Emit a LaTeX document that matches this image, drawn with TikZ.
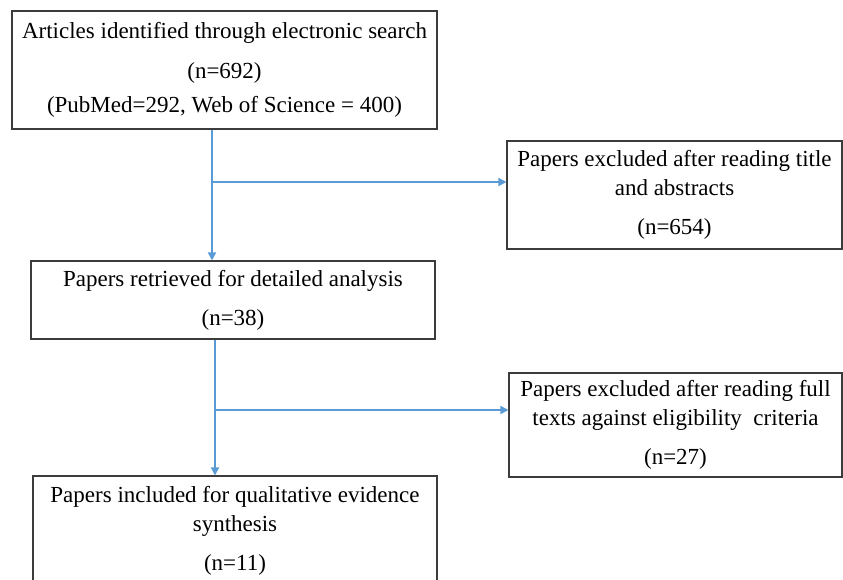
\documentclass[tikz,border=0pt]{standalone}
\usepackage{fontspec}
\setmainfont{Liberation Serif}
\usetikzlibrary{positioning}
\usetikzlibrary{arrows.meta}
\usetikzlibrary{calc}
\definecolor{flowblue}{RGB}{91,155,213}
\definecolor{boxgray}{RGB}{60,60,60}
\tikzset{stage box/.style={draw=boxgray,line width=1.1pt,align=center,inner sep=0pt,font=\fontsize{23}{29}\selectfont},}
\tikzset{flow arrow/.style={draw=flowblue,line width=1.7pt,-{Triangle[length=8pt,width=8pt]}},}

\begin{document}
\begin{tikzpicture}[x=1pt, y=-1pt]
		\useasboundingbox (0,0) rectangle (843,579);
		\clip (0,0) rectangle (843,579);
		\node[stage box, minimum width=425pt, minimum height=118pt] (ident) at (224.5,70) {Articles identified through electronic search\\[11pt] (n=692)\\[5pt] (PubMed=292, Web of Science = 400)};
		\node[stage box, minimum width=335pt, minimum height=108pt] (excl1) at (674.5,195) {Papers excluded after reading title\\ and abstracts\\[10pt] (n=654)};
		\node[stage box, minimum width=404pt, minimum height=78pt] (retr) at (233,300) {Papers retrieved for detailed analysis\\[10pt] (n=38)};
		\node[stage box, minimum width=333pt, minimum height=104pt] (excl2) at (675.5,425) {Papers excluded after reading full\\ texts against eligibility\ \ criteria\\[10pt] (n=27)};
		\node[stage box, minimum width=404pt, minimum height=110pt] (incl) at (235,531) {Papers included for qualitative evidence\\ synthesis\\[10pt] (n=11)};

		\coordinate (split1) at (212,182);
		\coordinate (split2) at (215,410);

		\draw[flow arrow] (split1 |- ident.south) -- (split1 |- retr.north);
		\draw[flow arrow] (split1) -- (split1 -| excl1.west);
		\draw[flow arrow] (split2 |- retr.south) -- (split2 |- incl.north);
		\draw[flow arrow] (split2) -- (split2 -| excl2.west);
	\end{tikzpicture}
\end{document}
